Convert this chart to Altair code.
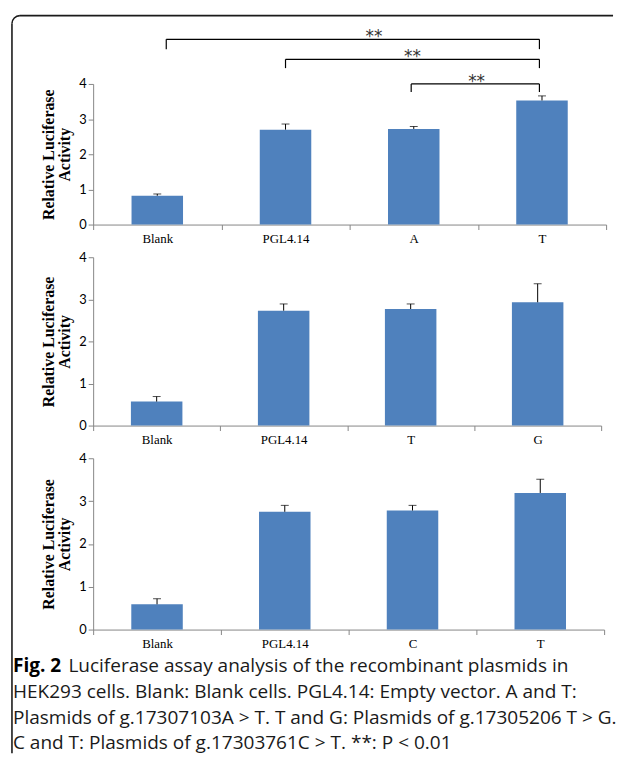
import math
import altair as alt
import pandas as pd

# ---------------- data ----------------
y_ticks = [0, 1, 2, 3, 4]
y_title = ["Relative Luciferase", "Activity"]

p1_cats = ["Blank", "PGL4.14", "A", "T"]
p1_vals = [0.82, 2.70, 2.72, 3.53]
p1_tops = [0.87, 2.86, 2.79, 3.66]

p2_cats = ["Blank", "PGL4.14", "T", "G"]
p2_vals = [0.57, 2.73, 2.77, 2.93]
p2_tops = [0.69, 2.89, 2.89, 3.37]

p3_cats = ["Blank", "PGL4.14", "C", "T"]
p3_vals = [0.59, 2.75, 2.78, 3.19]
p3_tops = [0.72, 2.90, 2.90, 3.51]

# significance brackets of panel 1 (positions in band units, heights in data units)
sig_left = [0.57, 1.50, 2.48]
sig_right = [3.48, 3.48, 3.48]
sig_level = [5.27, 4.70, 4.00]
sig_low = [4.99, 4.45, 3.77]
sig_text_x = [2.19, 2.49, 2.99]
sig_labels = ["**", "**", "**"]

caption_bold = "Fig. 2"
caption_lines = [
    "Luciferase assay analysis of the recombinant plasmids in",
    "HEK293 cells. Blank: Blank cells. PGL4.14: Empty vector. A and T:",
    "Plasmids of g.17307103A > T. T and G: Plasmids of g.17305206 T > G.",
    "C and T: Plasmids of g.17303761C > T. **: P < 0.01",
]

# ---------------- style ----------------
BLUE = "#4F81BD"
GRAY = "#868686"
OX, OY = 91, 78  # page position of first panel origin (page has 8px margin)


def y_enc(field):
    return alt.Y(
        f"{field}:Q",
        scale=alt.Scale(domain=[0, 4], nice=False, zero=True),
        title=y_title,
        axis=alt.Axis(
            values=y_ticks, format="d", grid=False,
            domainColor=GRAY, tickColor=GRAY, tickSize=5, labelPadding=2,
            labelFont="Lato", labelFontSize=13, labelColor="black",
            titleFont="Liberation Serif", titleFontSize=16, titleFontWeight="bold",
            titleColor="black", titleLineHeight=17, titlePadding=6,
        ),
    )


def x_enc(cats):
    return alt.X(
        "cat:N", sort=cats, title=None,
        scale=alt.Scale(paddingInner=0, paddingOuter=0),
        axis=alt.Axis(
            tickBand="extent", labelAngle=0, domainColor=GRAY, tickColor=GRAY,
            tickSize=5, labelPadding=3, labelFont="Liberation Serif",
            labelFontSize=13, labelColor="black", grid=False,
        ),
    )


def panel(cats, vals, tops):
    df = pd.DataFrame({"cat": cats, "val": vals, "top": tops})
    base = alt.Chart(df)
    bars = base.mark_bar(size=52, color=BLUE).encode(x=x_enc(cats), y=y_enc("val"))
    err = base.mark_rule(color="black", strokeWidth=1).encode(
        x=x_enc(cats), y=y_enc("val"), y2="top:Q")
    cap = base.mark_tick(color="black", size=8, thickness=1, orient="horizontal").encode(
        x=x_enc(cats), y=y_enc("top"))
    return alt.layer(bars, err, cap)


# panel 1 with brackets
sig_df = pd.DataFrame({"x1": sig_left, "x2": sig_right, "yl": sig_level,
                       "ylow": sig_low, "tx": sig_text_x, "lab": sig_labels})
bx = alt.Scale(domain=[0, 4], nice=False, zero=False)
sbase = alt.Chart(sig_df)
hline = sbase.mark_rule(color="black", strokeWidth=1.2).encode(
    x=alt.X("x1:Q", scale=bx, axis=None), x2="x2:Q", y=y_enc("yl"))
vleft = sbase.mark_rule(color="black", strokeWidth=1.2).encode(
    x=alt.X("x1:Q", scale=bx, axis=None), y=y_enc("yl"), y2="ylow:Q")
vright = sbase.mark_rule(color="black", strokeWidth=1.2).encode(
    x=alt.X("x2:Q", scale=bx, axis=None), y=y_enc("yl"), y2="ylow:Q")
stext = sbase.mark_text(font="DejaVu Sans", fontSize=17,
                        color="#333333", baseline="alphabetic", dy=3).encode(
    x=alt.X("tx:Q", scale=bx, axis=None), y=y_enc("yl"), text="lab:N")
brackets = alt.layer(hline, vleft, vright, stext)

p1 = alt.layer(panel(p1_cats, p1_vals, p1_tops), brackets).resolve_scale(
    x="independent").properties(width=518, height=142)

p2 = panel(p2_cats, p2_vals, p2_tops).properties(width=513, height=170)
p3 = panel(p3_cats, p3_vals, p3_tops).properties(width=516, height=173)

# caption cell (origin at page y = 629 + 33 = 662)
CX, CY = OX, 662
line_y = [666, 692, 718, 744]
FS = 19.2
cap_layers = []
cap_layers.append(
    alt.Chart(pd.DataFrame({"t": [caption_bold]})).mark_text(
        font="Open Sans", fontSize=FS, fontWeight="bold", align="left",
        baseline="middle", color="black").encode(
        text="t:N", x=alt.value(10 - CX), y=alt.value(line_y[0] - CY)))
for i, line in enumerate(caption_lines):
    x0 = 66 if i == 0 else 10
    cap_layers.append(
        alt.Chart(pd.DataFrame({"t": [line]})).mark_text(
            font="Open Sans", fontSize=FS, align="left", baseline="middle",
            color="#1a1a1a").encode(
            text="t:N", x=alt.value(x0 - CX), y=alt.value(line_y[i] - CY)))

# rounded frame (top and left edges), kept inside the window
R = 8
frame_df = pd.DataFrame({"k": [0]})
top_edge = alt.Chart(frame_df).mark_rule(color="#1a1a1a", strokeWidth=1.6).encode(
    x=alt.value(9 + R - CX), x2=alt.value(616 - CX), y=alt.value(9 - CY))
left_edge = alt.Chart(frame_df).mark_rule(color="#1a1a1a", strokeWidth=1.6).encode(
    x=alt.value(9 - CX), y=alt.value(9 + R - CY), y2=alt.value(754 - CY))
corner = alt.Chart(frame_df).mark_arc(
    radius=R, radius2=R, stroke="#1a1a1a", strokeWidth=1.6, fillOpacity=0).encode(
    theta=alt.value(1.5 * math.pi), theta2=alt.value(2 * math.pi),
    x=alt.value(9 + R - CX), y=alt.value(9 + R - CY))

cap = alt.layer(*cap_layers, top_edge, left_edge, corner).properties(width=516, height=90)

chart = alt.vconcat(p1, p2, p3, cap, spacing=33, bounds="flush").properties(
    padding=0, background="white"
).configure_view(strokeWidth=0)

chart.save("out.html", embed_options={"renderer": "svg", "actions": False})
